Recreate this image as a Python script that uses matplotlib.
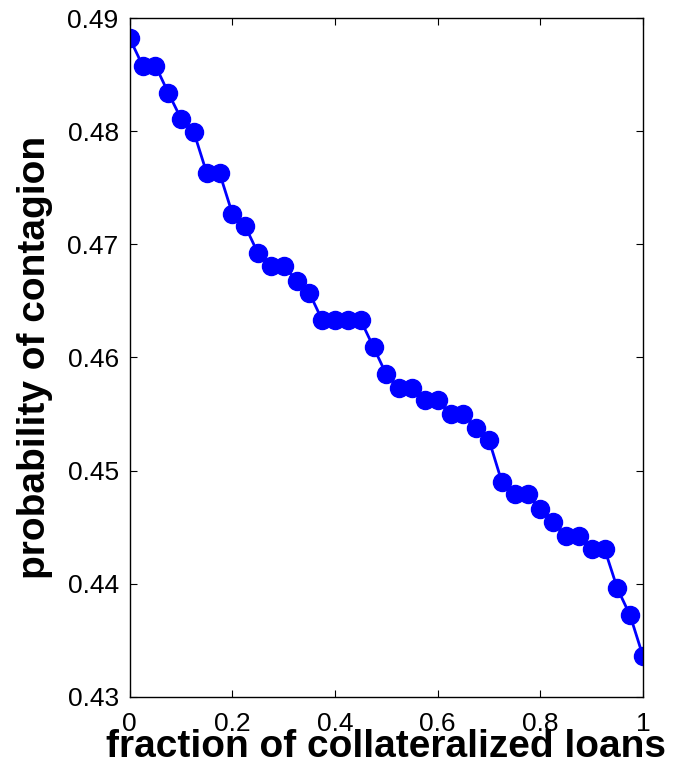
import matplotlib
matplotlib.use("Agg")
import matplotlib.pyplot as plt
import numpy as np

plt.rcParams['font.family'] = ['Liberation Sans', 'DejaVu Sans']

# fraction of collateralized loans (41 steps of 0.025)
fraction = np.linspace(0, 1, 41)
# probability of contagion
prob = [0.4882, 0.4858, 0.4858, 0.4834, 0.4811, 0.4799, 0.4763, 0.4763,
        0.4727, 0.4716, 0.4692, 0.4681, 0.4681, 0.4668, 0.4657, 0.4633,
        0.4633, 0.4633, 0.4633, 0.4609, 0.4585, 0.4573, 0.4573, 0.4562,
        0.4562, 0.4550, 0.4550, 0.4538, 0.4527, 0.4490, 0.4479, 0.4479,
        0.4466, 0.4455, 0.4442, 0.4442, 0.4431, 0.4431, 0.4396, 0.4372,
        0.4336]
xticks = [0, 0.2, 0.4, 0.6, 0.8, 1]
xticklabels = ["0", "0.2", "0.4", "0.6", "0.8", "1"]
yticks = [0.43, 0.44, 0.45, 0.46, 0.47, 0.48, 0.49]
yticklabels = ["0.43", "0.44", "0.45", "0.46", "0.47", "0.48", "0.49"]

fig = plt.figure(figsize=(6.74, 7.67), dpi=100)
ax = fig.add_axes([0.1925, 0.0913, 0.7615, 0.8852])

ax.plot(fraction, prob, color="#0000ff", lw=2, marker="o", markersize=13)

ax.set_xlim(0, 1)
ax.set_ylim(0.43, 0.49)
ax.set_xticks(xticks)
ax.set_xticklabels(xticklabels)
ax.set_yticks(yticks)
ax.set_yticklabels(yticklabels)
ax.tick_params(direction="in", top=True, right=True, length=5, labelsize=19)
ax.tick_params(axis="x", pad=11)
ax.tick_params(axis="y", pad=8)
for s in ax.spines.values():
    s.set_linewidth(1)

ax.set_xlabel("fraction of collateralized loans", fontsize=28,
              fontweight="bold", labelpad=-5)
ax.set_ylabel("probability of contagion", fontsize=28, fontweight="bold",
              labelpad=10)

fig.savefig("out.png", dpi=100)
